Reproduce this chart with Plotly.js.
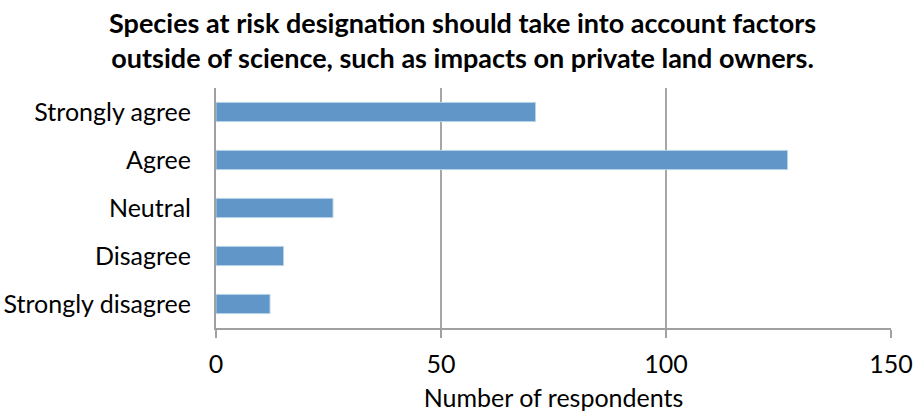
<!DOCTYPE html>
<html>
<head>
<meta charset="utf-8">
<script src="https://cdn.plot.ly/plotly-3.0.1.min.js"></script>
<style>html,body{margin:0;padding:0;background:#fff;}#chart{width:916px;height:414px;}</style>
</head>
<body>
<div id="chart"></div>
<script>
const categories = ["Strongly agree", "Agree", "Neutral", "Disagree", "Strongly disagree"];
const respondents = [71, 127, 26, 15, 12];
const xTicks = [0, 50, 100, 150];
const titleText = "<b>Species at risk designation should take into account factors<br>outside of science, such as impacts on private land owners.</b>";

const trace = {
  type: "bar",
  orientation: "h",
  y: categories,
  x: respondents,
  marker: {color: "rgb(97,150,200)", line: {color: "rgb(185,210,232)", width: 1}},
  hoverinfo: "x+y"
};

const layout = {
  width: 916,
  height: 414,
  margin: {l: 216, r: 25, t: 88, b: 86},
  paper_bgcolor: "#fff",
  plot_bgcolor: "#fff",
  font: {family: "Lato, 'Liberation Sans', sans-serif", size: 25, color: "#000"},
  annotations: [{
    text: titleText,
    xref: "paper", yref: "paper",
    x: 0.365, xanchor: "center",
    y: 1.2, yanchor: "middle",
    showarrow: false,
    font: {family: "Lato, 'Liberation Sans', sans-serif", size: 27, color: "#000"}
  }],
  bargap: 0.6,
  showlegend: false,
  xaxis: {
    range: [0, 150],
    tickvals: xTicks,
    ticktext: xTicks.map(String),
    showgrid: true,
    gridcolor: "#a6a6a6",
    gridwidth: 1.5,
    zeroline: false,
    showline: true,
    linecolor: "#a0a0a0",
    linewidth: 2,
    ticks: "outside",
    ticklen: 8,
    tickwidth: 2,
    tickcolor: "#a0a0a0",
    tickfont: {size: 25},
    ticklabelstandoff: 5,
    title: {text: "Number of respondents", font: {size: 25}, standoff: 12},
    fixedrange: true
  },
  yaxis: {
    autorange: "reversed",
    type: "category",
    showline: true,
    linecolor: "#a0a0a0",
    linewidth: 2,
    ticks: "",
    showgrid: false,
    tickfont: {size: 25},
    ticklabelstandoff: 18,
    fixedrange: true
  }
};

Plotly.newPlot("chart", [trace], layout, {displayModeBar: false, staticPlot: true});
</script>
</body>
</html>
